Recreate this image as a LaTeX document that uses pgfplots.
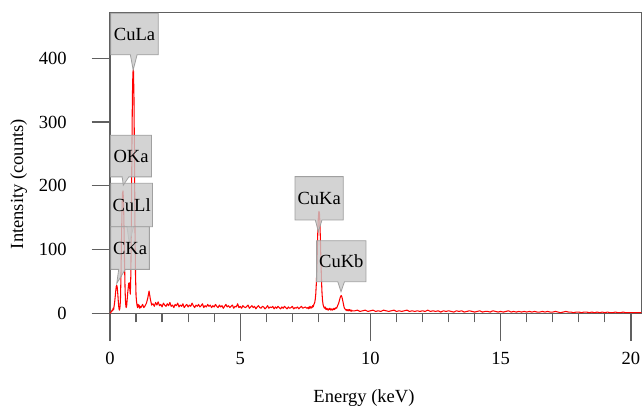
\documentclass[border=0pt]{standalone}
\usepackage{fontspec}
\setmainfont{Liberation Serif}
\usepackage{pgfplots}
\pgfplotsset{compat=1.18}
\usetikzlibrary{shapes.callouts}
\definecolor{axgray}{RGB}{96,96,96}
\definecolor{boxfill}{RGB}{200,200,200}
\definecolor{boxdraw}{RGB}{160,160,160}
\begin{document}
\fontsize{13.9}{16}\selectfont
\begin{tikzpicture}
\useasboundingbox (-82.5pt,-71pt) rectangle (399pt,235pt);
\tikzset{lbl/.style={rectangle callout, fill=boxfill, fill opacity=0.8, text opacity=1, draw=boxdraw, line width=0.6pt, callout pointer width=5pt, inner sep=0pt, text=black}}
\pgfplotsset{common/.style={scale only axis, width=398.5pt, height=225.5pt,
  xmin=0, xmax=20.4, ymin=0, ymax=471.5,
  axis line style={axgray, line width=0.9pt},
  tick style={axgray, line width=0.9pt},
  tick align=outside,
  /pgf/number format/assume math mode=true,
  ticklabel style={text=black}}}
% x axis ticks (longer major ticks)
\begin{axis}[common,
  axis x line*=bottom, axis y line=none,
  xtick={0,5,10,15,20}, minor x tick num=4,
  major tick length=20.8pt, minor tick length=6.75pt,
  xticklabel style={yshift=-3.8pt},
]
\end{axis}
\begin{axis}[common,
  clip=false,
  xtick=\empty,
  ytick={0,100,200,300,400},
  ytick pos=left,
  major tick length=13.7pt,
  yticklabel style={xshift=-14pt},
  xlabel={Energy (keV)}, ylabel={Intensity (counts)},
  x label style={at={(axis description cs:0.478,-0.283)}, anchor=center},
  y label style={at={(axis description cs:-0.172,0.430)}, anchor=center},
]
\addplot[red, line width=0.8pt, line join=round] coordinates {
(0.00,0) (0.02,1) (0.04,2) (0.06,3) (0.08,5) (0.10,4) (0.12,8) (0.14,6) (0.16,12) (0.18,18)
(0.20,26) (0.22,35) (0.24,42) (0.26,44) (0.28,40) (0.30,30) (0.32,18) (0.34,9) (0.36,5) (0.38,8)
(0.40,20) (0.42,55) (0.44,110) (0.46,160) (0.48,188) (0.50,192) (0.52,175) (0.54,130) (0.56,75) (0.58,35)
(0.60,15) (0.62,9) (0.64,12) (0.66,22) (0.68,32) (0.70,40) (0.72,47) (0.74,48) (0.76,38) (0.78,30)
(0.80,60) (0.82,140) (0.84,250) (0.86,340) (0.88,378) (0.90,382) (0.92,340) (0.94,240) (0.96,130) (0.98,60)
(1.00,28) (1.02,18) (1.04,12) (1.06,9) (1.08,14) (1.10,10) (1.12,13) (1.14,8) (1.16,11) (1.18,9)
(1.20,10) (1.25,14) (1.30,9) (1.35,12) (1.40,16) (1.45,24) (1.50,35) (1.55,22) (1.60,13) (1.65,15)
(1.70,11) (1.75,17) (1.80,13) (1.85,18) (1.90,12) (1.95,14) (2.00,10) (2.05,16) (2.10,13) (2.15,11)
(2.20,15) (2.25,12) (2.30,17) (2.35,11) (2.40,13) (2.45,9) (2.50,14) (2.55,12) (2.60,16) (2.65,10)
(2.70,13) (2.75,11) (2.80,15) (2.85,9) (2.90,12) (2.95,14) (3.00,10) (3.05,13) (3.10,11) (3.15,16)
(3.20,12) (3.25,9) (3.30,13) (3.35,11) (3.40,14) (3.45,10) (3.50,12) (3.55,15) (3.60,9) (3.65,12)
(3.70,10) (3.75,14) (3.80,11) (3.85,13) (3.90,9) (3.95,12) (4.00,10) (4.05,14) (4.10,11) (4.15,9)
(4.20,13) (4.25,10) (4.30,12) (4.35,8) (4.40,11) (4.45,14) (4.50,10) (4.55,12) (4.60,9) (4.65,11)
(4.70,13) (4.75,8) (4.80,11) (4.85,10) (4.90,15) (4.95,9) (5.00,11) (5.05,8) (5.10,12) (5.15,10)
(5.20,9) (5.25,11) (5.30,13) (5.35,8) (5.40,10) (5.45,12) (5.50,9) (5.55,11) (5.60,7) (5.65,10)
(5.70,12) (5.75,9) (5.80,8) (5.85,11) (5.90,10) (5.95,7) (6.00,9) (6.05,12) (6.10,8) (6.15,10)
(6.20,9) (6.25,11) (6.30,7) (6.35,10) (6.40,8) (6.45,11) (6.50,9) (6.55,7) (6.60,10) (6.65,8)
(6.70,11) (6.75,9) (6.80,7) (6.85,10) (6.90,8) (6.95,9) (7.00,11) (7.05,7) (7.10,9) (7.15,8)
(7.20,10) (7.25,7) (7.30,9) (7.35,11) (7.40,8) (7.45,9) (7.50,10) (7.55,8)
(7.60,9) (7.62,7) (7.64,10) (7.66,8) (7.68,11) (7.70,9) (7.72,8) (7.74,10) (7.76,9) (7.78,12)
(7.80,10) (7.82,13) (7.84,15) (7.86,17) (7.88,22) (7.90,30) (7.92,45) (7.94,68) (7.96,98) (7.98,130)
(8.00,152) (8.02,160) (8.04,158) (8.06,142) (8.08,112) (8.10,80) (8.12,52) (8.14,32) (8.16,20) (8.18,14)
(8.20,11) (8.22,9) (8.24,8) (8.26,10) (8.28,7) (8.30,6) (8.32,8) (8.34,6) (8.36,7) (8.38,5)
(8.40,7) (8.42,6) (8.44,8) (8.46,6) (8.48,5) (8.50,7) (8.52,6) (8.54,5) (8.56,7) (8.58,6)
(8.60,8) (8.62,6) (8.64,7) (8.66,8) (8.68,9) (8.70,8) (8.72,10) (8.74,12) (8.76,14) (8.78,16)
(8.80,19) (8.82,22) (8.84,25) (8.86,27) (8.88,28) (8.90,26) (8.92,23) (8.94,19) (8.96,15) (8.98,11)
(9.00,8) (9.02,7) (9.04,6) (9.06,5) (9.08,6) (9.10,4) (9.12,5) (9.14,6) (9.16,4) (9.18,5)
(9.20,6) (9.22,4) (9.24,5) (9.26,3) (9.28,5) (9.30,4)
(9.4,4) (9.5,5) (9.6,3) (9.7,4) (9.8,5) (9.9,3) (10.0,4) (10.1,5) (10.2,3) (10.3,4)
(10.4,3) (10.5,5) (10.6,4) (10.7,3) (10.8,4) (10.9,5) (11.0,3) (11.1,4) (11.2,3) (11.3,4)
(11.4,5) (11.5,3) (11.6,4) (11.7,3) (11.8,4) (11.9,3) (12.0,4) (12.1,3) (12.2,5) (12.3,3)
(12.4,4) (12.5,3) (12.6,4) (12.7,2) (12.8,4) (12.9,3) (13.0,4) (13.1,3) (13.2,2) (13.3,4)
(13.4,3) (13.5,4) (13.6,2) (13.7,3) (13.8,4) (13.9,3) (14.0,2) (14.1,3) (14.2,4) (14.3,2)
(14.4,3) (14.5,3) (14.6,2) (14.7,4) (14.8,3) (14.9,2) (15.0,3) (15.1,2) (15.2,3) (15.3,4)
(15.4,2) (15.5,3) (15.6,2) (15.7,3) (15.8,2) (15.9,3) (16.0,2) (16.1,3) (16.2,2) (16.3,3)
(16.4,2) (16.5,2) (16.6,3) (16.7,2) (16.8,3) (16.9,2) (17.0,2) (17.1,3) (17.2,2) (17.3,1)
(17.4,2) (17.5,3) (17.6,2) (17.7,2) (17.8,1) (17.9,2) (18.0,2) (18.1,1) (18.2,2) (18.3,2)
(18.4,1) (18.5,2) (18.6,1) (18.7,2) (18.8,1) (18.9,2) (19.0,1) (19.1,2) (19.2,1) (19.3,1)
(19.4,2) (19.5,1) (19.6,1) (19.7,2) (19.8,1) (19.9,1) (20.0,1) (20.1,1) (20.2,1) (20.3,1) (20.4,1)
};
\node[lbl, minimum width=35.7pt, minimum height=31.2pt, callout absolute pointer={(axis cs:0.89,381.6)}] at (axis cs:0.94,438) {CuLa};
\node[lbl, minimum width=31.2pt, minimum height=32.5pt, callout absolute pointer={(axis cs:0.74,110)}] at (axis cs:0.83,169.9) {CuLl};
\node[lbl, minimum width=30.75pt, minimum height=31.3pt, callout absolute pointer={(axis cs:0.51,201)}] at (axis cs:0.81,246.7) {OKa};
\node[lbl, minimum width=29pt, minimum height=32pt, callout absolute pointer={(axis cs:0.26,47)}] at (axis cs:0.77,102.4) {CKa};
\node[lbl, minimum width=36.2pt, minimum height=32.5pt, callout absolute pointer={(axis cs:8.0,128)}] at (axis cs:8.03,180.4) {CuKa};
\node[lbl, minimum width=37pt, minimum height=30.75pt, callout absolute pointer={(axis cs:8.87,34)}] at (axis cs:8.88,81.7) {CuKb};
\end{axis}
\end{tikzpicture}
\end{document}
